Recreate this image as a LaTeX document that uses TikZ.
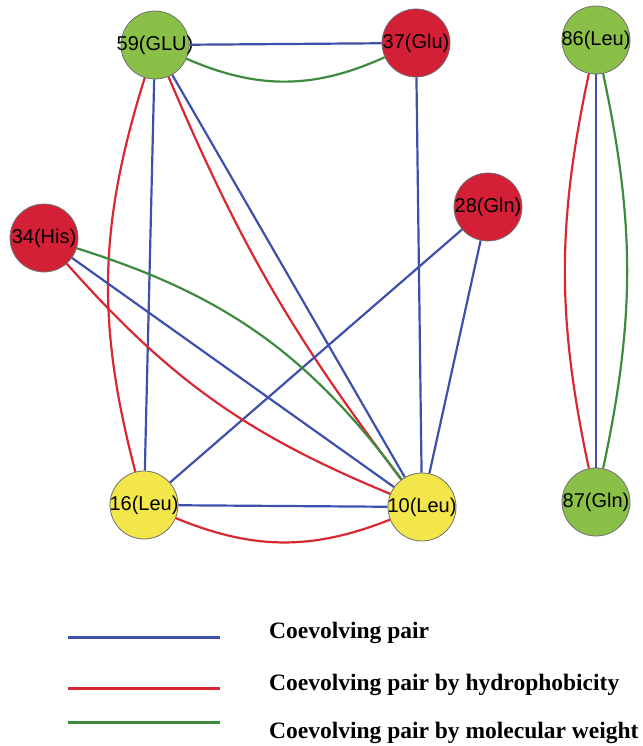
\documentclass[tikz,border=0pt]{standalone}
\usepackage{fontspec}
\setmainfont{Liberation Serif}
\newfontfamily\resfont{Liberation Sans}
\usepackage{tikz}

\definecolor{pairblue}{RGB}{62,80,172}
\definecolor{pairred}{RGB}{216,40,50}
\definecolor{pairgreen}{RGB}{62,138,62}
\definecolor{leafgreen}{RGB}{138,192,72}
\definecolor{acidred}{RGB}{212,32,54}
\definecolor{leuyellow}{RGB}{242,230,74}
\definecolor{rimgray}{RGB}{112,112,112}

\begin{document}
\begin{tikzpicture}[x=10pt,y=-10pt,line width=2.2pt]
\newcommand{\nsize}{68pt}
\newcommand{\res}[1]{\makebox[0pt]{#1}}
\useasboundingbox (0,0) rectangle (64.2,74.6);
\begin{scope}[shape=circle,minimum size=\nsize,inner sep=0pt]
\tikzstyle{every node}=[draw=rimgray,line width=0.8pt,font=\resfont\fontsize{20}{24}\selectfont]
\node[fill=leafgreen] (R_59) at (15.5,4.5) {\res{59(GLU)}};
\node[fill=acidred] (R_37) at (41.6,4.3) {\res{37(Glu)}};
\node[fill=leafgreen] (R_86) at (59.6,4.0) {\res{86(Leu)}};
\node[fill=acidred] (R_28) at (48.8,20.7) {\res{28(Gln)}};
\node[fill=acidred] (R_34) at (4.4,23.8) {\res{34(His)}};
\node[fill=leuyellow] (R_16) at (14.4,50.5) {\res{16(Leu)}};
\node[fill=leuyellow] (R_10) at (42.2,50.7) {\res{10(Leu)}};
\node[fill=leafgreen] (R_87) at (59.6,50.2) {\res{87(Gln)}};
\draw [pairblue] (R_59) -- (R_37);
\draw [pairgreen] (R_59) to[bend right=24] (R_37);
\draw [pairblue] (R_59) -- (R_16);
\draw [pairred] (R_59) to[bend right=16] (R_16);
\draw [pairblue] (R_59) -- (R_10);
\draw [pairred] (R_59) to[bend right=7] (R_10);
\draw [pairblue] (R_37) -- (R_10);
\draw [pairblue] (R_28) -- (R_16);
\draw [pairblue] (R_28) -- (R_10);
\draw [pairblue] (R_34) -- (R_10);
\draw [pairred] (R_34) to[bend right=13] (R_10);
\draw [pairgreen] (R_34) to[bend left=18] (R_10);
\draw [pairblue] (R_16) -- (R_10);
\draw [pairred] (R_16) to[bend right=22] (R_10);
\draw [pairblue] (R_86) -- (R_87);
\draw [pairred] (R_86) to[bend right=12] (R_87);
\draw [pairgreen] (R_86) to[bend left=12] (R_87);
\end{scope}
% legend
\tikzstyle{keytext}=[anchor=base west,inner sep=0pt,font=\bfseries\fontsize{23.5}{28}\selectfont]
\coordinate (K_b1) at (6.8,63.7);
\coordinate (K_b2) at (22.0,63.7);
\coordinate (K_r1) at (6.8,68.8);
\coordinate (K_r2) at (22.0,68.8);
\coordinate (K_g1) at (6.8,72.2);
\coordinate (K_g2) at (22.0,72.2);
\draw [pairblue,line width=3pt] (K_b1) -- (K_b2);
\draw [pairred,line width=3pt] (K_r1) -- (K_r2);
\draw [pairgreen,line width=3pt] (K_g1) -- (K_g2);
\node[keytext] (T_b) at (26.8,63.8) {Coevolving pair};
\node[keytext] (T_r) at (26.8,69.0) {Coevolving pair by hydrophobicity};
\node[keytext] (T_g) at (26.8,73.8) {Coevolving pair by molecular weight};
\end{tikzpicture}
\end{document}
